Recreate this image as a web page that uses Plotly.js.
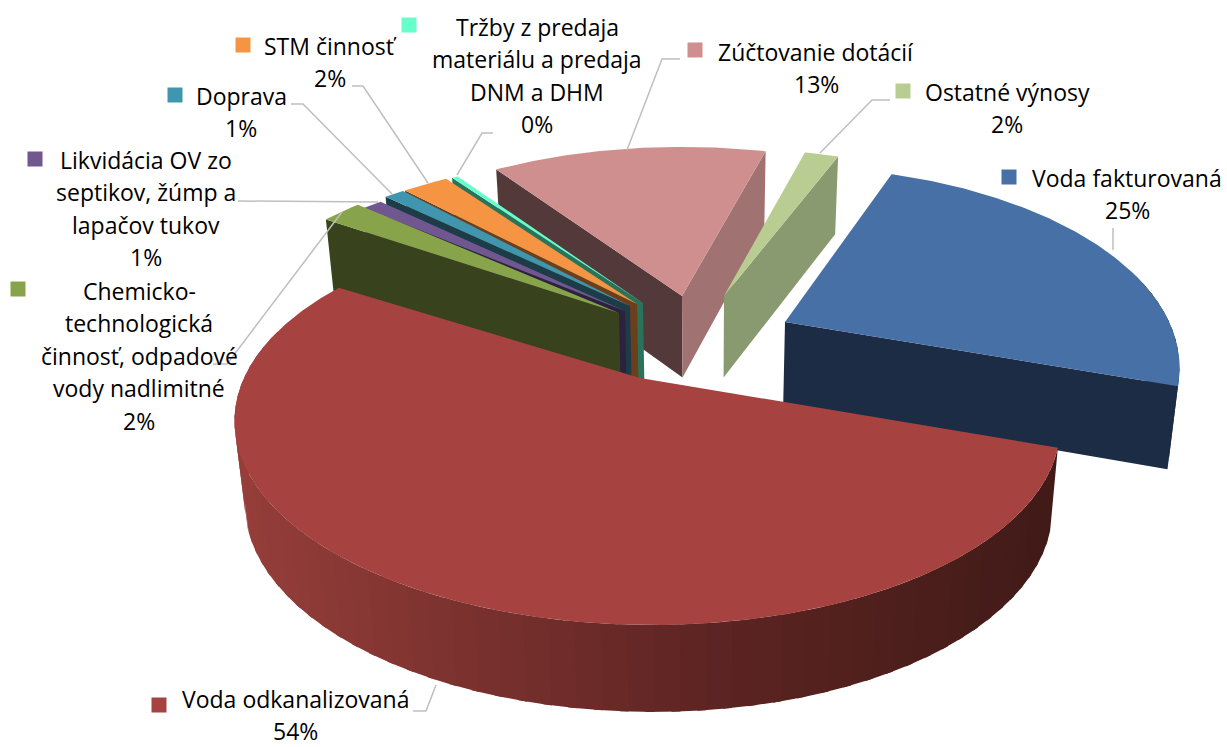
<!DOCTYPE html>
<html><head><meta charset="utf-8">
<script src="https://cdn.plot.ly/plotly-3.0.1.min.js"></script>
<style>html,body{margin:0;padding:0;background:#fff}#c{width:1227px;height:747px}</style>
</head><body><div id="c"></div>
<script>
const categories=["Voda fakturovaná","Voda odkanalizovaná","Chemicko-technologická činnosť, odpadové vody nadlimitné","Likvidácia OV zo septikov, žúmp a lapačov tukov","Doprava","STM činnosť","Tržby z predaja materiálu a predaja DNM a DHM","Zúčtovanie dotácií","Ostatné výnosy"];
const values=[25,54,2,1,1,2,0.3,13,2];
const percentLabels=["25%","54%","2%","1%","1%","2%","0%","13%","2%"];
const labelLines=[["Voda fakturovaná"],["Voda odkanalizovaná"],["Chemicko-","technologická","činnosť, odpadové","vody nadlimitné"],["Likvidácia OV zo","septikov, žúmp a","lapačov tukov"],["Doprava"],["STM činnosť"],["Tržby z predaja","materiálu a predaja","DNM a DHM"],["Zúčtovanie dotácií"],["Ostatné výnosy"]];
const topColors=["#4670A6","#A64341","#88A44A","#71578F","#3F96AE","#F59443","#66FFCC","#CE8F8E","#B9CD93"];
const startWall=[null,null,"#38421C","#2C2240","#1C3C48","#6B3E1C","#28735A","#53393A",null];
const endWall=["#1B2C44",null,null,null,null,null,null,"#A07271","#8A9A70"];

// projection / placement (styles, not data)
const startAngle=20, persp=0.228, FX=396, GY=190.7, H=81.5;
const apex=[[785,322],[640,378],[619,313],[625,311],[630,306],[637,304],[643,303],[682,296],[724,296]];
const scaleU=[0.97,1.015,1.0,1.0,1.0,1.0,1.0,0.975,0.975];
const scaleV=[1.0,1.0,1.0,0.95,0.95,0.95,0.95,0.96,0.95];
const rimShiftX=[0,7,0,0,0,0,0,0,0];
const startOffset=[-0.3,0,0,0,0,-1,0,-1,2];
const endOffset=[-1.5,-1.5,0,0,0,0,0,2.5,1];
const rimRange={0:[75,null],1:[null,285]};
const drawOrder=[7,8,0,6,5,4,3,2,1];
const labelCenterX=[1127,295,139,146,241,330,537,816,1007];
const labelTopY=[178,699,291,160,96,46,27,52,92];
const lineSteps=[32.4,32,32.4,32.4,32.4,32.4,32.4,32.4,32.4];
const keyX=[1009,159,18,35,175,243,409,695,903];
const keyY=[177,705,289,159,95,45,25,50,91];
const leaders=[
 [[1113,228],[1113,250]],
 [[413,711],[426,711],[436,685]],
 [[213,364],[227,364],[342,212]],
 [[238,201],[378,202]],
 [[291,104],[303,104],[392,194]],
 [[352,86],[363,86],[428,183]],
 [[493,133],[482,133],[457,175]],
 [[680,59],[662,59],[627,150]],
 [[890,100],[872,100],[820,153]]
];

const total=values.reduce((a,b)=>a+b,0);
const rad=Math.PI/180;
function pt(i,deg,r,drop){
  const u=r*Math.sin(deg*rad), v=r*Math.cos(deg*rad), w=1+persp*v;
  const d=drop*H/Math.pow(w,0.25);
  const x=apex[i][0]+r*rimShiftX[i]*(1-v)*0.85+FX*scaleU[i]*u/w;
  return [x-drop*(x-705)*0.022, apex[i][1]-GY*scaleV[i]*v/w+d];
}
const traces=[];
function poly(points,color){
  traces.push({type:"scatter",mode:"lines",x:points.map(p=>p[0]),y:points.map(p=>p[1]),fill:"toself",fillcolor:color,
    line:{color:color,width:0},hoverinfo:"skip",showlegend:false});
}
function lerp(a,b,t){return a.map((c,j)=>Math.round(c+(b[j]-c)*t));}
function redRim(x){
  const t=Math.min(1,Math.max(0,(x-235)/(1040-235)));
  const c=t<0.6?lerp([150,62,58],[92,36,34],t/0.6):lerp([92,36,34],[66,27,24],(t-0.6)/0.4);
  return "rgb("+c.join(",")+")";
}
let acc=startAngle; const a0=[],a1=[];
values.forEach((v,i)=>{a0[i]=acc+startOffset[i]; acc+=v/total*360; a1[i]=acc+endOffset[i];});

drawOrder.forEach(i=>{
  const s=a0[i], e=a1[i];
  if(rimRange[i]){
    const from=rimRange[i][0]===null?s:rimRange[i][0]; const to=rimRange[i][1]===null?e:rimRange[i][1];
    const from2=Math.max(from,s), to2=Math.min(to,e);
    const n=i===1?60:12;
    for(let k=0;k<n;k++){
      const d0=from2+(to2-from2)*k/n, d1=Math.min(to2,from2+(to2-from2)*(k+1)/n+1);
      const c0=pt(i,d0,1,0), c1=pt(i,from2+(to2-from2)*(k+1)/n,1,0);
      const sub=[];
      for(let m=0;m<=4;m++) sub.push(pt(i,d0+(d1-d0)*m/4,1,0));
      for(let m=4;m>=0;m--) sub.push(pt(i,d0+(d1-d0)*m/4,1,1));
      sub.push(sub[0]);
      const col=i===1?redRim((c0[0]+c1[0])/2):endWall[i];
      poly(sub,col);
    }
  }
  if(startWall[i]){
    const p=pt(i,s,0,0),q=pt(i,s,1,0),r=pt(i,s,1,1),t=pt(i,s,0,1);
    poly([p,q,r,t,p],startWall[i]);
  }
  if(endWall[i]){
    const p=pt(i,e,0,0),q=pt(i,e,1,0),r=pt(i,e,1,1),t=pt(i,e,0,1);
    poly([p,q,r,t,p],endWall[i]);
  }
  const top=[pt(i,s,0,0)];
  const steps=Math.max(6,Math.ceil((e-s)*1.5));
  for(let k=0;k<=steps;k++) top.push(pt(i,s+(e-s)*k/steps,1,0));
  top.push(pt(i,s,0,0));
  poly(top,topColors[i]);
});

traces.push({type:"scatter",mode:"markers",x:keyX,y:keyY,text:categories,hoverinfo:"text",showlegend:false,
  marker:{symbol:"square",size:15,color:topColors,line:{width:0}}});

const annotations=[];
labelLines.forEach((lines,i)=>{
  lines.concat([percentLabels[i]]).forEach((t,j)=>{
    annotations.push({x:labelCenterX[i],y:labelTopY[i]+j*lineSteps[i],xref:"x",yref:"y",text:t,showarrow:false,
      xanchor:"center",yanchor:"middle",font:{family:"Open Sans",size:23,color:"#000"}});
  });
});
const shapes=leaders.map(l=>({type:"path",xref:"x",yref:"y",
  path:l.map((p,j)=>(j?"L":"M")+p[0]+" "+p[1]).join(" "),line:{color:"#BFBFBF",width:1.5}}));

Plotly.newPlot("c",traces,{width:1227,height:747,margin:{l:0,r:0,t:0,b:0},paper_bgcolor:"#fff",plot_bgcolor:"#fff",
  xaxis:{range:[0,1227],visible:false,fixedrange:true},yaxis:{range:[747,0],visible:false,fixedrange:true},
  annotations:annotations,shapes:shapes,showlegend:false},{displayModeBar:false,staticPlot:true});
</script></body></html>
